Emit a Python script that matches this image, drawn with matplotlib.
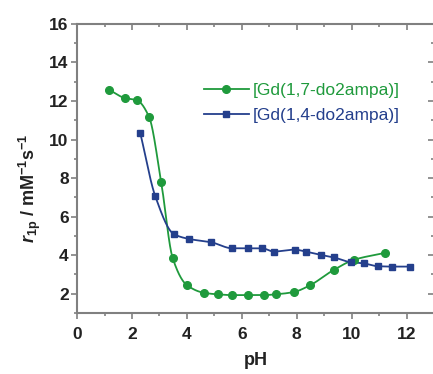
import numpy as np
import matplotlib
matplotlib.use("Agg")
import matplotlib.pyplot as plt
from matplotlib.ticker import MultipleLocator

plt.rcParams['font.family'] = ['Liberation Sans', 'DejaVu Sans']
plt.rcParams['mathtext.fontset'] = 'custom'
plt.rcParams['mathtext.rm'] = 'Liberation Sans:bold'
plt.rcParams['mathtext.it'] = 'Liberation Sans:bold:italic'
plt.rcParams['mathtext.bf'] = 'Liberation Sans:bold'

ph_17 = [1.16, 1.73, 2.18, 2.62, 3.06, 3.48, 3.99, 4.62, 5.12, 5.65, 6.21, 6.80,
         7.23, 7.89, 8.47, 9.35, 10.08, 11.21]
r1p_17 = [12.59, 12.16, 12.04, 11.18, 7.82, 3.86, 2.46, 2.05, 1.97, 1.93, 1.93, 1.93,
          1.97, 2.09, 2.43, 3.24, 3.76, 4.12]

ph_14 = [2.30, 2.85, 3.52, 4.09, 4.89, 5.65, 6.21, 6.74, 7.16, 7.92, 8.32, 8.90,
         9.34, 9.96, 10.43, 10.95, 11.47, 12.14]
r1p_14 = [10.35, 7.05, 5.10, 4.84, 4.67, 4.36, 4.36, 4.36, 4.19, 4.29, 4.19, 4.01,
          3.89, 3.64, 3.58, 3.43, 3.41, 3.41]

labels = ['[Gd(1,7-do2ampa)]', '[Gd(1,4-do2ampa)]']
green = '#1f9a3c'
blue = '#243f8c'
spine_col = '#808080'


def pchip_curve(x, y, n=40):
    x = np.asarray(x, float)
    y = np.asarray(y, float)
    h = np.diff(x)
    d = np.diff(y) / h
    m = np.zeros_like(y)
    for k in range(1, len(x) - 1):
        if d[k - 1] * d[k] > 0:
            w1 = 2 * h[k] + h[k - 1]
            w2 = h[k] + 2 * h[k - 1]
            m[k] = (w1 + w2) / (w1 / d[k - 1] + w2 / d[k])
    m[0] = d[0]
    m[-1] = d[-1]
    xs, ys = [], []
    for k in range(len(x) - 1):
        t = np.linspace(0, 1, n)
        h00 = 2 * t**3 - 3 * t**2 + 1
        h10 = t**3 - 2 * t**2 + t
        h01 = -2 * t**3 + 3 * t**2
        h11 = t**3 - t**2
        xs.append(x[k] + t * h[k])
        ys.append(h00 * y[k] + h10 * h[k] * m[k] + h01 * y[k + 1] + h11 * h[k] * m[k + 1])
    return np.concatenate(xs), np.concatenate(ys)


fig = plt.figure(figsize=(4.33, 3.74), dpi=100)
ax = fig.add_axes([0.178, 0.163, 0.8245, 0.773])

gx, gy = pchip_curve(ph_17, r1p_17)
bx, by = pchip_curve(ph_14, r1p_14)
ax.plot(gx, gy, color=green, lw=1.3)
ax.plot(bx, by, color=blue, lw=1.3)
ax.plot(ph_17, r1p_17, 'o', color=green, ms=5.5)
ax.plot(ph_14, r1p_14, 's', color=blue, ms=5)

h1, = ax.plot([], [], '-o', color=green, lw=1.3, ms=5.5)
h2, = ax.plot([], [], '-s', color=blue, lw=1.3, ms=5)
leg = ax.legend([h1, h2], labels, loc='upper left', bbox_to_anchor=(0.355, 0.795),
                frameon=False, fontsize=12.5, handlelength=2.6, handletextpad=0.2,
                labelspacing=0.55, borderaxespad=0, borderpad=0)
for t, c in zip(leg.get_texts(), [green, blue]):
    t.set_color(c)

ax.set_xlim(0, 13)
ax.set_ylim(1, 16)
ax.set_xticks([0, 2, 4, 6, 8, 10, 12])
ax.set_yticks([2, 4, 6, 8, 10, 12, 14, 16])
ax.xaxis.set_minor_locator(MultipleLocator(1))
ax.yaxis.set_minor_locator(MultipleLocator(1))

for s in ax.spines.values():
    s.set_color(spine_col)
    s.set_linewidth(1.5)

ax.tick_params(which='both', direction='out', color=spine_col, width=1.2,
               labelsize=12.5)
ax.tick_params(axis='y', pad=2)
ax.tick_params(axis='x', pad=6)
ax.tick_params(which='major', length=4)
ax.tick_params(which='minor', length=2.5)
for lab in ax.get_xticklabels() + ax.get_yticklabels():
    lab.set_fontweight('bold')
    lab.set_color('#222222')

ax2 = ax.secondary_xaxis('top')
ax2.set_xticks([0, 2, 4, 6, 8, 10, 12])
ax2.xaxis.set_minor_locator(MultipleLocator(1))
ax2.tick_params(which='both', direction='in', color=spine_col, width=1.2, labeltop=False)
ax2.tick_params(which='major', length=4)
ax2.tick_params(which='minor', length=2.5)
ax2.spines['top'].set_visible(False)

ax3 = ax.secondary_yaxis('right')
ax3.set_yticks([2, 4, 6, 8, 10, 12, 14, 16])
ax3.yaxis.set_minor_locator(MultipleLocator(1))
ax3.tick_params(which='both', direction='in', color=spine_col, width=1.2, labelright=False)
ax3.tick_params(which='major', length=4)
ax3.tick_params(which='minor', length=2.5)
ax3.spines['right'].set_visible(False)

ax.set_xlabel('pH', fontsize=13, fontweight='bold', color='#222222', labelpad=7)
ax.set_ylabel(r'$r_{\mathrm{1p}}$ / mM$^{\mathrm{-1}}$s$^{\mathrm{-1}}$', fontsize=13,
              fontweight='bold', color='#222222')
ax.yaxis.set_label_coords(-0.095, 0.43)

fig.savefig('out.png', dpi=100)
